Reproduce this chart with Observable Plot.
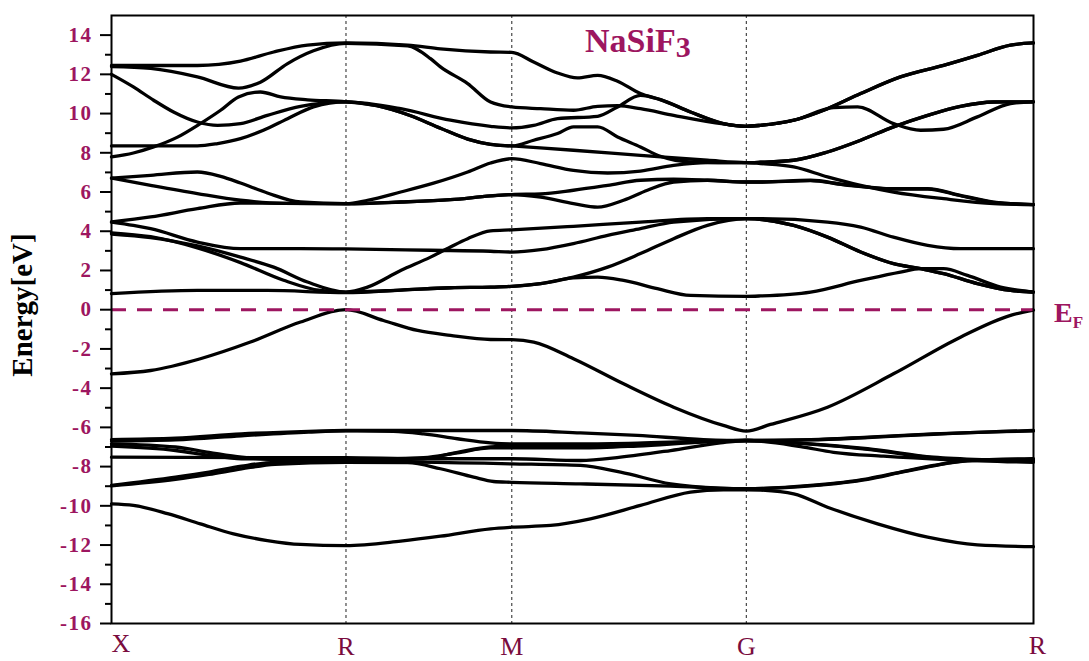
<!DOCTYPE html>
<html><head><meta charset="utf-8">
<script src="https://cdn.jsdelivr.net/npm/d3@7"></script>
<script src="https://cdn.jsdelivr.net/npm/@observablehq/plot@0.6"></script>
<style>body{margin:0;background:#fff;overflow:hidden}</style>
</head><body><div id="chart"></div>
<script>
// high-symmetry points, path length in units of 2π/a
const kPoints = [0, 0.7071, 1.2071, 1.9142, 2.7802];
const kLabels = ["X", "R", "M", "G", "R"];
const yMajorTicks = [-16,-14,-12,-10,-8,-6,-4,-2,0,2,4,6,8,10,12,14];
const yMinorTicks = [-15,-13,-11,-9,-7,-5,-3,-1,1,3,5,7,9,11,13];
const fermiLevel = [0];

// conduction bands [k, E(eV)]
const bandA = [[0,12.45],[0.259,12.45],[0.389,12.67],[0.489,13.14],[0.591,13.49],[0.707,13.6],[0.893,13.49],[0.992,13.3],[1.143,13.14],[1.207,13.12],[1.273,12.63],[1.345,12.07],[1.405,11.82],[1.466,11.95],[1.526,11.65],[1.595,11.02],[1.655,10.71],[1.746,10.08],[1.845,9.49],[1.914,9.35],[1.957,9.4],[2.057,9.66],[2.159,10.25],[2.259,11.02],[2.379,11.87],[2.509,12.46],[2.611,12.97],[2.711,13.49],[2.780,13.6]];
const bandB = [[0,12.4],[0.118,12.3],[0.259,11.87],[0.383,11.3],[0.449,11.6],[0.531,12.55],[0.609,13.2],[0.707,13.58],[0.893,13.45],[0.962,12.8],[0.992,12.38],[1.074,11.53],[1.143,10.59],[1.207,10.34],[1.294,10.25],[1.393,10.17],[1.466,10.37],[1.526,10.4],[1.595,10.25],[1.695,9.91],[1.845,9.47],[1.914,9.35],[1.957,9.4],[2.057,9.66],[2.159,10.25],[2.259,11.02],[2.379,11.87],[2.509,12.46],[2.611,12.97],[2.711,13.49],[2.780,13.6]];
const bandC = [[0,12.0],[0.066,11.36],[0.127,10.68],[0.187,10.08],[0.259,9.57],[0.320,9.4],[0.389,9.49],[0.470,9.91],[0.570,10.37],[0.707,10.6],[0.872,10.25],[1.022,9.66],[1.143,9.35],[1.207,9.27],[1.273,9.4],[1.345,9.74],[1.466,9.86],[1.526,10.34],[1.595,10.93],[1.655,10.71],[1.746,10.08],[1.845,9.49],[1.914,9.35],[1.957,9.4],[2.057,9.66],[2.177,10.3],[2.250,10.34],[2.358,9.49],[2.440,9.15],[2.509,9.2],[2.611,9.83],[2.711,10.51],[2.780,10.6]];
const bandD = [[0,7.79],[0.066,7.99],[0.127,8.3],[0.199,8.8],[0.268,9.49],[0.329,10.17],[0.383,10.85],[0.449,11.1],[0.510,10.85],[0.591,10.7],[0.707,10.6],[0.80,10.4],[0.90,9.9],[0.992,9.25],[1.074,8.7],[1.143,8.43],[1.207,8.35],[1.273,8.64],[1.345,8.98],[1.393,9.32],[1.466,9.32],[1.526,8.81],[1.595,8.3],[1.655,7.82],[1.746,7.53],[1.914,7.5],[1.957,7.52],[2.057,7.62],[2.159,8.04],[2.259,8.64],[2.358,9.32],[2.461,9.91],[2.560,10.37],[2.660,10.59],[2.780,10.6]];
const bandE = [[0,8.35],[0.259,8.35],[0.320,8.47],[0.389,8.72],[0.458,9.15],[0.531,9.74],[0.609,10.34],[0.707,10.6],[0.80,10.4],[0.90,9.9],[0.992,9.25],[1.074,8.7],[1.143,8.43],[1.207,8.35],[1.393,8.13],[1.595,7.87],[1.797,7.62],[1.914,7.5],[1.957,7.52],[2.057,7.62],[2.159,8.04],[2.259,8.64],[2.358,9.32],[2.461,9.91],[2.560,10.37],[2.660,10.59],[2.780,10.6]];
const bandF = [[0,6.71],[0.118,6.85],[0.259,7.02],[0.329,6.8],[0.389,6.46],[0.470,5.95],[0.570,5.49],[0.707,5.41],[0.772,5.58],[0.872,6.0],[0.971,6.45],[1.074,7.02],[1.143,7.48],[1.207,7.7],[1.294,7.45],[1.393,7.1],[1.496,6.97],[1.595,7.07],[1.695,7.36],[1.797,7.5],[1.914,7.5],[1.957,7.45],[2.057,7.28],[2.159,6.77],[2.259,6.34],[2.358,6.0],[2.509,5.66],[2.660,5.41],[2.780,5.36]];
const bandG = [[0,6.71],[0.118,6.34],[0.259,5.92],[0.389,5.58],[0.519,5.42],[0.707,5.4],[0.872,5.49],[1.022,5.61],[1.143,5.8],[1.207,5.87],[1.294,5.9],[1.393,6.09],[1.496,6.34],[1.595,6.6],[1.695,6.65],[1.797,6.6],[1.914,6.51],[1.957,6.51],[2.108,6.6],[2.207,6.39],[2.358,6.17],[2.461,6.17],[2.560,5.83],[2.660,5.49],[2.780,5.36]];
const bandH = [[0,4.47],[0.118,4.73],[0.259,5.15],[0.389,5.44],[0.707,5.41],[0.872,5.49],[1.022,5.61],[1.143,5.8],[1.207,5.87],[1.294,5.74],[1.393,5.41],[1.466,5.23],[1.544,5.58],[1.616,6.09],[1.695,6.51],[1.797,6.6],[1.914,6.51],[1.957,6.51],[2.108,6.58],[2.207,6.37],[2.358,6.15],[2.461,6.15],[2.560,5.81],[2.660,5.47],[2.780,5.36]];
const bandI = [[0,4.47],[0.066,4.3],[0.118,4.13],[0.259,3.45],[0.389,3.11],[0.570,3.11],[0.707,3.1],[0.962,3.03],[1.143,2.98],[1.207,2.94],[1.294,3.06],[1.393,3.37],[1.496,3.79],[1.595,4.13],[1.695,4.47],[1.914,4.64],[1.957,4.64],[2.159,4.47],[2.259,4.21],[2.358,3.7],[2.461,3.28],[2.560,3.11],[2.780,3.11]];
const bandJ = [[0,3.92],[0.118,3.72],[0.259,3.15],[0.389,2.4],[0.519,1.5],[0.630,0.98],[0.707,0.9],[0.772,1.15],[0.872,2.0],[0.962,2.68],[1.022,3.2],[1.074,3.62],[1.143,4.02],[1.207,4.07],[1.393,4.25],[1.595,4.47],[1.797,4.64],[1.914,4.64],[2.057,4.3],[2.159,3.7],[2.259,2.94],[2.358,2.35],[2.440,2.09],[2.509,1.84],[2.611,1.33],[2.711,0.98],[2.780,0.9]];
const bandK = [[0,3.86],[0.118,3.68],[0.259,3.25],[0.389,2.68],[0.489,2.17],[0.591,1.41],[0.707,0.9],[0.872,1.0],[1.022,1.12],[1.143,1.15],[1.207,1.19],[1.294,1.33],[1.393,1.66],[1.496,2.17],[1.595,2.86],[1.695,3.62],[1.797,4.3],[1.914,4.64],[2.057,4.3],[2.159,3.7],[2.259,2.94],[2.358,2.35],[2.440,2.09],[2.509,1.84],[2.611,1.33],[2.711,0.98],[2.780,0.9]];
const bandL = [[0,0.82],[0.259,0.98],[0.470,0.98],[0.707,0.87],[0.872,1.0],[1.022,1.12],[1.143,1.15],[1.207,1.19],[1.294,1.33],[1.393,1.62],[1.466,1.66],[1.544,1.49],[1.646,1.07],[1.746,0.73],[1.914,0.68],[1.957,0.7],[2.108,0.9],[2.259,1.49],[2.379,1.92],[2.440,2.09],[2.509,2.09],[2.581,1.75],[2.681,1.15],[2.780,0.9]];

// valence bands [k, E(eV)]
const bandV1 = [[0,-3.27],[0.118,-3.1],[0.268,-2.5],[0.419,-1.65],[0.570,-0.63],[0.707,0],[0.820,-0.55],[0.923,-1.06],[1.022,-1.31],[1.143,-1.52],[1.207,-1.53],[1.273,-1.65],[1.393,-2.5],[1.544,-3.78],[1.695,-4.97],[1.845,-5.9],[1.914,-6.19],[1.987,-5.85],[2.159,-4.97],[2.358,-3.27],[2.560,-1.4],[2.711,-0.29],[2.780,-0.02]];
const bandG1 = [[0,-6.62],[0.193,-6.55],[0.392,-6.33],[0.594,-6.2],[0.707,-6.16],[1.207,-6.16],[1.414,-6.28],[1.586,-6.41],[1.785,-6.62],[1.914,-6.67],[2.108,-6.62],[2.280,-6.5],[2.479,-6.33],[2.681,-6.21],[2.780,-6.16]];
const bandG2 = [[0,-6.7],[0.193,-6.64],[0.392,-6.43],[0.594,-6.24],[0.707,-6.18],[0.85,-6.2],[0.941,-6.33],[1.043,-6.58],[1.143,-6.79],[1.207,-6.84],[1.414,-6.84],[1.586,-6.8],[1.785,-6.7],[1.914,-6.67],[2.108,-6.64],[2.280,-6.52],[2.479,-6.35],[2.681,-6.22],[2.780,-6.18]];
const bandG3 = [[0,-6.84],[0.193,-7.0],[0.294,-7.27],[0.392,-7.52],[0.493,-7.65],[0.707,-7.7],[0.941,-7.6],[1.043,-7.27],[1.143,-7.0],[1.207,-6.96],[1.414,-6.94],[1.586,-6.85],[1.785,-6.72],[1.914,-6.67],[2.078,-6.8],[2.280,-7.09],[2.479,-7.52],[2.630,-7.65],[2.780,-7.7]];
const bandG4 = [[0,-6.96],[0.193,-7.18],[0.294,-7.42],[0.392,-7.6],[0.707,-7.65],[0.941,-7.55],[1.043,-7.3],[1.143,-7.05],[1.207,-7.05],[1.414,-7.05],[1.586,-6.95],[1.785,-6.75],[1.914,-6.67],[2.078,-6.98],[2.177,-7.27],[2.328,-7.47],[2.530,-7.65],[2.780,-7.78]];
const bandG5 = [[0,-7.52],[0.707,-7.55],[0.941,-7.6],[1.207,-7.6],[1.414,-7.69],[1.535,-7.52],[1.686,-7.18],[1.836,-6.79],[1.914,-6.67],[2.078,-6.82],[2.280,-7.12],[2.479,-7.55],[2.630,-7.67],[2.780,-7.72]];
const bandG6 = [[0,-8.96],[0.193,-8.54],[0.294,-8.28],[0.392,-7.98],[0.493,-7.78],[0.707,-7.75],[1.207,-7.86],[1.414,-7.94],[1.535,-8.28],[1.686,-8.88],[1.836,-9.1],[1.914,-9.13],[2.108,-8.96],[2.280,-8.62],[2.379,-8.28],[2.479,-7.94],[2.581,-7.69],[2.780,-7.6]];
const bandG7 = [[0,-8.98],[0.193,-8.65],[0.294,-8.4],[0.392,-8.12],[0.493,-7.88],[0.707,-7.78],[0.893,-7.8],[0.992,-8.11],[1.092,-8.54],[1.152,-8.76],[1.207,-8.8],[1.414,-8.88],[1.686,-9.0],[1.914,-9.13],[2.108,-8.98],[2.280,-8.65],[2.379,-8.3],[2.479,-7.96],[2.581,-7.71],[2.780,-7.62]];
const bandLow = [[0,-9.9],[0.066,-9.98],[0.169,-10.4],[0.268,-10.92],[0.368,-11.43],[0.470,-11.77],[0.570,-11.97],[0.707,-12.03],[0.872,-11.8],[0.992,-11.55],[1.143,-11.17],[1.207,-11.09],[1.324,-11.0],[1.444,-10.66],[1.595,-9.98],[1.746,-9.3],[1.845,-9.18],[1.914,-9.18],[1.957,-9.2],[2.057,-9.39],[2.159,-10.07],[2.310,-10.92],[2.461,-11.6],[2.611,-11.99],[2.780,-12.08]];

const bandList = [["A",bandA],["B",bandB],["C",bandC],["D",bandD],["E",bandE],["F",bandF],["G",bandG],["H",bandH],["I",bandI],["J",bandJ],["K",bandK],["L",bandL],["V1",bandV1],["G1",bandG1],["G2",bandG2],["G3",bandG3],["G4",bandG4],["G5",bandG5],["G6",bandG6],["G7",bandG7],["Low",bandLow]];
const rows = bandList.flatMap(([name, pts]) => pts.map(([k, E]) => ({band: name, k, E})));

const magenta = "#9d1660";
const xColor = "#7a0c3e";
const labelOf = d => kLabels[kPoints.indexOf(d)];

const chart = Plot.plot({
  width: 1089, height: 661,
  marginLeft: 111, marginRight: 56, marginTop: 15, marginBottom: 38,
  x: {domain: [0, 2.7802], label: null},
  y: {domain: [-16, 15], label: null},
  style: {fontFamily: "'Liberation Serif', 'Times New Roman', serif", background: "white", overflow: "visible"},
  marks: [
    Plot.ruleX(kPoints.slice(1, 4), {stroke: "#222", strokeWidth: 1, strokeDasharray: "3,3"}),
    Plot.line(rows, {x: "k", y: "E", z: "band", stroke: "black", strokeWidth: 3.3, curve: "monotone-x"}),
    Plot.ruleY(fermiLevel, {stroke: magenta, strokeWidth: 3, strokeDasharray: "15,11"}),
    Plot.frame({stroke: "black", strokeWidth: 2}),
    Plot.axisY(yMajorTicks, {tickSize: 11, tickPadding: 8, stroke: "black", strokeWidth: 2, fill: magenta, fontSize: 21, fontWeight: "bold", tickFormat: d => String(d), label: null}),
    Plot.axisY(yMinorTicks, {tickSize: 6, stroke: "black", strokeWidth: 2, fill: "none", label: null}),
    Plot.axisX([kPoints[0]], {tickSize: 0, tickPadding: 10, textAnchor: "start", fontSize: 26, fill: xColor, tickFormat: labelOf, label: null}),
    Plot.axisX(kPoints.slice(1, 4), {tickSize: 0, tickPadding: 13, fontSize: 26, fill: xColor, tickFormat: labelOf, label: null}),
    Plot.axisX([kPoints[4]], {tickSize: 0, tickPadding: 12, dx: 4, fontSize: 26, fill: xColor, tickFormat: labelOf, label: null})
  ]
});
document.getElementById("chart").appendChild(chart);

const svg = d3.select(chart);
svg.selectAll('g[aria-label="y-axis tick label"] text').attr("letter-spacing", "1.5px");
const font = "'Liberation Serif', 'Times New Roman', serif";
// title
const t = svg.append("text").attr("x", 585).attr("y", 52).attr("text-anchor", "start").attr("font-family", font)
  .attr("font-weight", "bold").attr("font-size", 34).attr("fill", magenta);
t.append("tspan").text("NaSiF");
t.append("tspan").attr("dy", 5).attr("font-size", 30).text("3");
// E_F label
const ef = svg.append("text").attr("x", 1054).attr("y", 322).attr("text-anchor", "start").attr("font-family", font)
  .attr("font-weight", "bold").attr("font-size", 28).attr("fill", magenta);
ef.append("tspan").text("E");
ef.append("tspan").attr("dy", 6).attr("font-size", 17).text("F");
// y label
svg.append("text").attr("transform", "translate(32,305) rotate(-90)").attr("text-anchor", "middle")
  .attr("font-family", font).attr("font-weight", "bold").attr("font-size", 29).attr("fill", "black")
  .text("Energy[eV]");
</script></body></html>
